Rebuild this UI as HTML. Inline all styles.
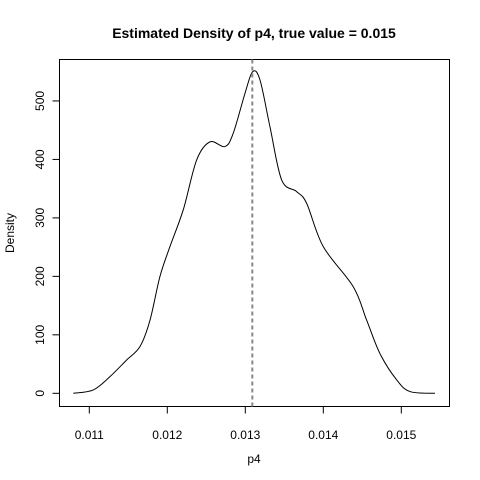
<!DOCTYPE html>
<html><head><meta charset="utf-8"><style>
html,body{margin:0;padding:0;background:#fff}
svg{display:block;font-family:"Liberation Sans",Arial,sans-serif}
</style></head><body>
<svg id="chart" width="480" height="480" xmlns="http://www.w3.org/2000/svg">
<rect width="480" height="480" fill="#fff"/>
<text x="254" y="38" text-anchor="middle" font-size="14" font-weight="bold">Estimated Density of p4, true value = 0.015</text>
<rect x="59.5" y="59.5" width="390" height="347" fill="none" stroke="#000" stroke-width="1"/>
<g id="xaxis"></g>
<g id="yaxis"></g>
<text x="254" y="463" text-anchor="middle" font-size="12">p4</text>
<text x="0" y="0" transform="translate(14,233) rotate(-90)" text-anchor="middle" font-size="12">Density</text>
<g id="marks"></g>
</svg>
<script>
const xVals=[0.010795,0.011051,0.011265,0.011479,0.011650,0.011778,0.011906,0.012034,0.012205,0.012376,0.012547,0.012739,0.012846,0.012996,0.013094,0.013188,0.013316,0.013466,0.013658,0.013786,0.013999,0.014385,0.014556,0.014726,0.014940,0.015111,0.015432];
const densVals=[0,5.7,28.5,57,80,125,200,251,314,399,430,422,445,513,550,536,456,365,345,325,251,182,125,68,23,3,0];
const xTicks=[0.011,0.012,0.013,0.014,0.015];
const xTickLabels=["0.011","0.012","0.013","0.014","0.015"];
const yTicks=[0,100,200,300,400,500];
const trueLine=[0.01309];

const NS="http://www.w3.org/2000/svg";
function X(v){return 89.3+(v-0.011)*78000;}
function Y(v){return 393.3-v*0.5847;}
function mk(tag,attrs,parent){const e=document.createElementNS(NS,tag);for(const k in attrs)e.setAttribute(k,attrs[k]);parent.appendChild(e);return e;}
const xa=document.getElementById('xaxis'),ya=document.getElementById('yaxis'),marks=document.getElementById('marks');
mk('line',{x1:X(xTicks[0]),x2:X(xTicks[xTicks.length-1]),y1:406.5,y2:406.5,stroke:'#000'},xa);
xTicks.forEach((t,i)=>{
  const l=mk('line',{x1:X(t),x2:X(t),y1:406.5,y2:413.5,stroke:'#000'},xa);
  
  
  const tx=mk('text',{x:X(t),y:439,'text-anchor':'middle','font-size':12},xa);
  tx.textContent=xTickLabels[i];
  
  
});
mk('line',{x1:59.5,x2:59.5,y1:Y(yTicks[0]),y2:Y(yTicks[yTicks.length-1]),stroke:'#000'},ya);
yTicks.forEach(t=>{
  const l=mk('line',{x1:52.5,x2:59.5,y1:Y(t),y2:Y(t),stroke:'#000'},ya);
  
  
  const tx=mk('text',{transform:`translate(44,${Y(t)}) rotate(-90)`,'text-anchor':'middle','font-size':12},ya);
  tx.textContent=String(t);
  
  
});
const pts=xVals.map((v,i)=>[X(v),Y(densVals[i])]);
let d=`M${pts[0][0]},${pts[0][1]}`;
for(let i=0;i<pts.length-1;i++){
  const p0=pts[Math.max(0,i-1)],p1=pts[i],p2=pts[i+1],p3=pts[Math.min(pts.length-1,i+2)];
  const c1=[p1[0]+(p2[0]-p0[0])/6,p1[1]+(p2[1]-p0[1])/6];
  const c2=[p2[0]-(p3[0]-p1[0])/6,p2[1]-(p3[1]-p1[1])/6];
  d+=` C${c1[0]},${c1[1]} ${c2[0]},${c2[1]} ${p2[0]},${p2[1]}`;
}
const curve=mk('path',{d:d,fill:'none',stroke:'#000','stroke-width':1},marks);


trueLine.forEach(v=>{
  const l=mk('line',{x1:X(v),x2:X(v),y1:59.5,y2:406.5,stroke:'#888','stroke-width':2,'stroke-dasharray':'4,3'},marks);
  
  
});
</script>
</body></html>
